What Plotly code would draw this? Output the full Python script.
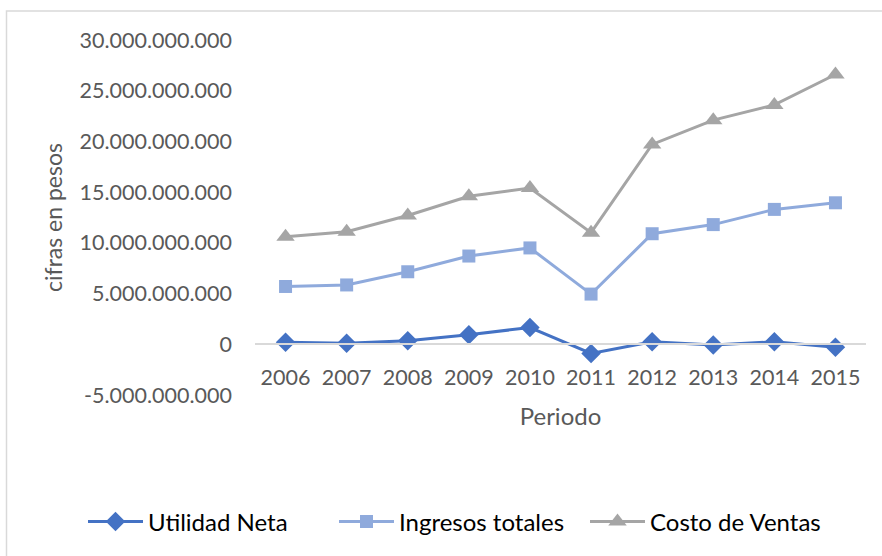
import plotly.graph_objects as go

years = ["2006", "2007", "2008", "2009", "2010", "2011", "2012", "2013", "2014", "2015"]
utilidad_neta = [0.2e9, 0.1e9, 0.35e9, 0.95e9, 1.65e9, -0.9e9, 0.25e9, -0.07e9, 0.25e9, -0.3e9]
ingresos_totales = [5.7e9, 5.85e9, 7.15e9, 8.7e9, 9.5e9, 4.95e9, 10.9e9, 11.8e9, 13.3e9, 13.95e9]
costo_ventas = [10.6e9, 11.1e9, 12.7e9, 14.6e9, 15.4e9, 11.0e9, 19.7e9, 22.1e9, 23.6e9, 26.6e9]

y_min, y_max, y_step = -5e9, 30e9, 5e9
tick_vals = [y_min + i * y_step for i in range(8)]
tick_text = ["{:,.0f}".format(v).replace(",", ".") for v in tick_vals]

W, H = 882, 556
ml, mr, mt, mb = 255, 16, 40, 161
pw, ph = W - ml - mr, H - mt - mb

fig = go.Figure()
series = [
    ("Utilidad Neta", utilidad_neta, "#4472C4", "diamond", 15),
    ("Ingresos totales", ingresos_totales, "#8FAADC", "square", 13),
    ("Costo de Ventas", costo_ventas, "#A5A5A5", "triangle-up", 16),
]
for name, vals, color, sym, sz in series:
    fig.add_trace(go.Scatter(
        x=years, y=vals, name=name, mode="lines+markers",
        line=dict(color=color, width=3),
        marker=dict(symbol=sym, size=sz, color=color),
    ))

zero_pos = (0 - y_min) / (y_max - y_min)

fig.update_layout(
    width=W, height=H,
    margin=dict(l=ml, r=mr, t=mt, b=mb),
    paper_bgcolor="white", plot_bgcolor="white",
    font=dict(family="Lato, Open Sans, sans-serif", color="#595959", size=21),
    showlegend=True,
    legend=dict(orientation="h", xref="paper", yref="paper",
                x=(83 - ml) / pw, xanchor="left", y=(H - mb - 522) / ph, yanchor="middle",
                bgcolor="rgba(0,0,0,0)", entrywidth=181,
                font=dict(size=24, color="#000000"), itemwidth=55, tracegroupgap=0),
    xaxis=dict(
        type="category", anchor="free", position=zero_pos, automargin=False,
        showline=True, linecolor="#D9D9D9", linewidth=1.5,
        showgrid=False, ticks="", tickfont=dict(size=21.5, color="#595959"),
        ticklabelstandoff=14,
        title=dict(text="Periodo", font=dict(size=24, color="#595959"), standoff=18),
        range=[-0.5, len(years) - 0.5], fixedrange=True,
    ),
    yaxis=dict(
        range=[y_min, y_max], tickvals=tick_vals, ticktext=tick_text, automargin=False,
        showgrid=False, zeroline=False, showline=False, ticks="",
        tickfont=dict(size=21.5, color="#595959"),
        ticklabelstandoff=22,
        title=dict(text="cifras en pesos", font=dict(size=23, color="#595959"), standoff=10),
    ),
)

# outer chart border (top and left visible, as in the cropped original)
fig.add_shape(type="rect", xref="paper", yref="paper",
              x0=(6.5 - ml) / pw, x1=(W + 5 - ml) / pw,
              y0=(H - mb - (H + 5)) / ph, y1=(H - mb - 11) / ph,
              line=dict(color="#D9D9D9", width=1.5), layer="below")

fig.write_html("out.html")
